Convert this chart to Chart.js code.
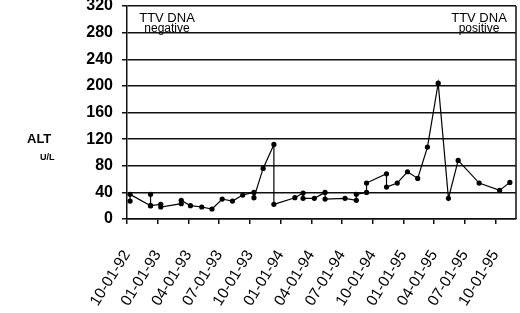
<!DOCTYPE html>
<html><head><meta charset="utf-8">
<script src="https://cdn.jsdelivr.net/npm/chart.js@4"></script>
<style>html,body{margin:0;padding:0;background:#fff}#wrap{width:520px;height:313px;position:relative}</style>
</head><body><div id="wrap"><canvas id="c"></canvas></div>
<script>
// x positions in months since 10-01-92 (visit dates), ALT values in U/L
const visitMonths = [0.3, 0.3, 2.3, 2.3, 2.3, 3.3, 3.3, 5.3, 5.3, 6.2, 7.3, 8.3, 9.3, 10.3, 11.3, 12.4, 12.4, 13.3, 14.35, 14.35, 16.4, 17.2, 17.2, 18.3, 19.35, 19.35, 21.3, 22.4, 22.4, 23.4, 23.4, 25.35, 25.35, 26.4, 27.4, 28.4, 29.35, 30.4, 31.4, 32.35, 34.4, 36.4, 37.4];
const altValues   = [27, 37, 20, 37, 20, 22, 18, 23, 28, 20, 18, 15, 30, 27, 36, 40, 32, 76, 112, 22, 32, 39, 31, 31, 40, 30, 31, 28, 37, 40, 54, 68, 48, 54, 71, 61, 108, 204, 31, 88, 54, 43, 55];
const xTickLabels = ['10-01-92','01-01-93','04-01-93','07-01-93','10-01-93','01-01-94','04-01-94','07-01-94','10-01-94','01-01-95','04-01-95','07-01-95','10-01-95'];
const yTickValues = [0, 40, 80, 120, 160, 200, 240, 280, 320];

const points = visitMonths.map((m, i) => ({x: m, y: altValues[i]}));

const textPlugin = {
  id: 'texts',
  afterDraw(chart) {
    const {ctx, chartArea: a} = chart;
    ctx.save();
    ctx.strokeStyle = '#111';
    ctx.lineWidth = 1.5;
    ctx.beginPath();
    ctx.moveTo(a.right, a.top);
    ctx.lineTo(a.right, a.bottom);
    ctx.stroke();
    ctx.fillStyle = '#000';
    ctx.textBaseline = 'middle';
    ctx.textAlign = 'center';
    ctx.font = '13px "Liberation Sans", Arial, sans-serif';
    ctx.fillText('TTV DNA', a.left + 40, a.top + 12);
    ctx.fillText('TTV DNA', a.right - 37, a.top + 12);
    ctx.font = '12px "Liberation Sans", Arial, sans-serif';
    ctx.fillText('negative', a.left + 40, a.top + 23);
    ctx.fillText('positive', a.right - 37, a.top + 23);
    ctx.textAlign = 'left';
    ctx.font = 'bold 13px "Liberation Sans", Arial, sans-serif';
    ctx.fillText('ALT', 27, 139);
    ctx.font = 'bold 9px "Liberation Sans", Arial, sans-serif';
    ctx.fillText('U/L', 40, 158);
    ctx.restore();
  }
};

new Chart(document.getElementById('c'), {
  type: 'line',
  data: {
    datasets: [{
      data: points,
      borderColor: '#000',
      borderWidth: 1.2,
      backgroundColor: '#000',
      pointBackgroundColor: '#000',
      pointBorderColor: '#000',
      pointRadius: 2.6,
      pointBorderWidth: 0,
      tension: 0,
      fill: false
    }]
  },
  options: {
    responsive: true,
    maintainAspectRatio: false,
    animation: false,
    events: [],
    layout: {padding: {top: 6, right: 2, left: 0, bottom: 0}},
    plugins: {legend: {display: false}, tooltip: {enabled: false}},
    scales: {
      x: {
        type: 'linear',
        min: 0,
        max: 38,
        afterBuildTicks(scale) { scale.ticks = xTickLabels.map((_, i) => ({value: i * 3})); },
        afterFit(scale) { scale.height = 94; scale.paddingLeft = 0; scale.paddingRight = 0; },
        grid: {drawOnChartArea: false, drawTicks: true, tickLength: 5, color: '#111', lineWidth: 1.5},
        border: {display: true, color: '#111', width: 1.5},
        ticks: {
          autoSkip: false,
          minRotation: 58,
          maxRotation: 58,
          padding: 23,
          color: '#000',
          font: {family: '"Liberation Sans", Arial, sans-serif', size: 15.5},
          callback: (v) => xTickLabels[Math.round(v / 3)] || ''
        }
      },
      y: {
        min: 0,
        max: 320,
        afterBuildTicks(scale) { scale.ticks = yTickValues.map(v => ({value: v})); },
        afterFit(scale) { scale.width = 127; scale.paddingTop = 0; scale.paddingBottom = 0; },
        grid: {color: '#111', lineWidth: 1.5, tickLength: 5, drawTicks: true},
        border: {display: true, color: '#111', width: 1.5},
        ticks: {
          padding: 9,
          color: '#000',
          font: {family: '"Liberation Sans", Arial, sans-serif', size: 16, weight: 'bold'}
        }
      }
    }
  },
  plugins: [textPlugin]
});
</script></body></html>
